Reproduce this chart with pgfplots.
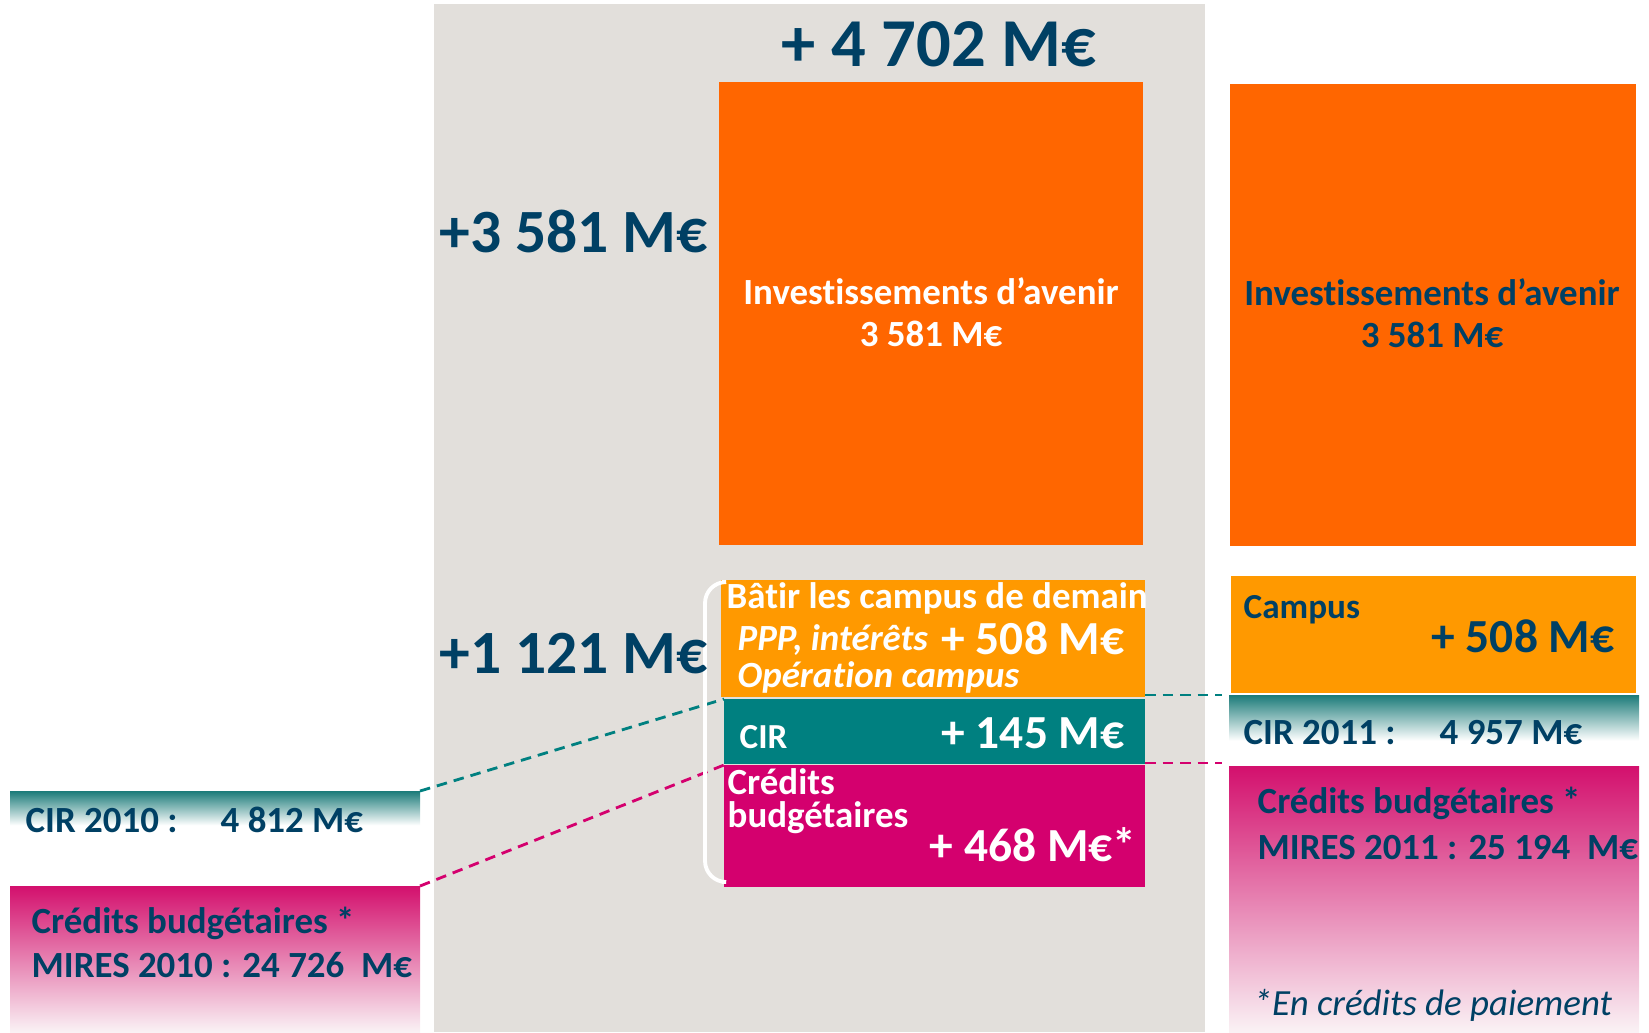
\documentclass[border=0pt]{standalone}
\usepackage{pgfplots}
\pgfplotsset{compat=1.18}
\usepackage{fontspec}
\setmainfont{Carlito}[Ligatures=NoCommon]
\definecolor{panel}{HTML}{E2DFDB}
\definecolor{orbig}{HTML}{FF6600}
\definecolor{orsmall}{HTML}{FF9900}
\definecolor{tealbox}{HTML}{008080}
\definecolor{magbox}{HTML}{D4006E}
\definecolor{navy}{HTML}{004064}
\definecolor{tealtop}{HTML}{1B7B79}
\definecolor{magtop}{HTML}{D3106D}
\definecolor{magbot}{HTML}{FAF2F5}
\pgfdeclareverticalshading{tealfade}{100bp}{color(0bp)=(white); color(25bp)=(white); color(42bp)=(white); color(75bp)=(tealtop); color(100bp)=(tealtop)}
\pgfdeclareverticalshading{magfade}{100bp}{color(0bp)=(magbot); color(25bp)=(magbot); color(75bp)=(magtop); color(100bp)=(magtop)}
\newcommand{\fs}[1]{\fontsize{#1}{#1}\selectfont}
\begin{document}
\begin{tikzpicture}
\begin{axis}[
  scale only axis, width=16.49cm, height=10.32cm,
  xmin=0, xmax=1649, ymin=0, ymax=1032, y dir=reverse,
  hide axis, clip=false]
\path (axis cs:0,0) rectangle (axis cs:1649,1032);
% grey panel
\addplot[draw=none, fill=panel] coordinates {(434,4) (1205,4) (1205,1032) (434,1032)} -- cycle;
% middle column
\addplot[draw=none, fill=orbig] coordinates {(719,82) (1143,82) (1143,545) (719,545)} -- cycle;
\addplot[draw=none, fill=orsmall] coordinates {(721,580) (1145,580) (1145,697) (721,697)} -- cycle;
\addplot[draw=none, fill=tealbox] coordinates {(724,699) (1145,699) (1145,764) (724,764)} -- cycle;
\addplot[draw=none, fill=magbox] coordinates {(724,765) (1145,765) (1145,887) (724,887)} -- cycle;
% right column
\addplot[draw=none, fill=orbig] coordinates {(1230,84) (1636,84) (1636,546) (1230,546)} -- cycle;
\addplot[draw=none, fill=orsmall] coordinates {(1231,576) (1636,576) (1636,693) (1231,693)} -- cycle;
\addplot[draw=none, shading=tealfade] coordinates {(1229,695) (1639,695) (1639,764) (1229,764)} -- cycle;
\addplot[draw=none, shading=magfade] coordinates {(1229,766) (1639,766) (1639,1032) (1229,1032)} -- cycle;
% left column
\addplot[draw=none, shading=tealfade] coordinates {(10,791) (420,791) (420,843) (10,843)} -- cycle;
\addplot[draw=none, shading=magfade] coordinates {(10,886) (420,886) (420,1032) (10,1032)} -- cycle;
% connectors
\addplot[tealbox, densely dashed, line width=0.8pt] coordinates {(420,791) (724,699)};
\addplot[magbox, densely dashed, line width=0.8pt] coordinates {(420,886) (724,765)};
\addplot[tealbox, densely dashed, line width=0.8pt] coordinates {(1145,695) (1222,695)};
\addplot[magbox, densely dashed, line width=0.8pt] coordinates {(1145,763) (1222,763)};
% bracket
\addplot[white, line width=1.1pt, rounded corners=6pt] coordinates {(722,582) (705,582) (705,882) (722,882)};
% texts
\node[text=navy, font=\bfseries\fs{19.5}] at (939,44) {+ 4 702 M€};
\node[text=navy, font=\bfseries\fs{17.5}, anchor=west, inner sep=0pt] at (439,231) {+3 581 M€};
\node[text=navy, font=\bfseries\fs{17.5}, anchor=west, inner sep=0pt] at (439,654) {+1 121 M€};
\node[text=white, font=\bfseries\fs{10.5}, align=center] at (931,312) {Investissements d’avenir\\[1.3pt]3 581 M€};
\node[text=navy, font=\bfseries\fs{10.5}, align=center] at (1432,313) {Investissements d’avenir\\[1.3pt]3 581 M€};
% middle small boxes
\node[text=white, font=\bfseries\fs{10.5}, anchor=west, inner sep=0pt] at (726,598) {Bâtir les campus de demain};
\node[text=white, font=\bfseries\itshape\fs{10.5}, anchor=west, inner sep=0pt] at (737,640) {PPP, intérêts};
\node[text=white, font=\bfseries\itshape\fs{10.5}, anchor=west, inner sep=0pt] at (737,677) {Opération campus};
\node[text=white, font=\bfseries\fs{13.5}, anchor=east, inner sep=0pt] at (1125,638) {+ 508 M€};
\node[text=white, font=\bfseries\fs{10}, anchor=west, inner sep=0pt] at (739,737) {CIR};
\node[text=white, font=\bfseries\fs{13.5}, anchor=east, inner sep=0pt] at (1125,733) {+ 145 M€};
\node[text=white, font=\bfseries\fs{10.5}, anchor=west, inner sep=0pt] at (727,782) {Crédits};
\node[text=white, font=\bfseries\fs{10.5}, anchor=west, inner sep=0pt] at (727,818) {budgétaires};
\node[text=white, font=\bfseries\fs{13.5}, anchor=east, inner sep=0pt] at (1137,845) {+ 468 M€*};
% right small boxes
\node[text=navy, font=\bfseries\fs{10}, anchor=west, inner sep=0pt] at (1243,610) {Campus};
\node[text=navy, font=\bfseries\fs{13.5}, anchor=east, inner sep=0pt] at (1615,636) {+ 508 M€};
\node[text=navy, font=\bfseries\fs{10.5}, anchor=west, inner sep=0pt] at (1243,732) {CIR 2011 :};
\node[text=navy, font=\bfseries\fs{10.5}, anchor=west, inner sep=0pt] at (1439,732) {4 957 M€};
\node[text=navy, font=\bfseries\fs{10.5}, anchor=west, inner sep=0pt] at (1257,803) {Crédits budgétaires *};
\node[text=navy, font=\bfseries\fs{10.5}, anchor=west, inner sep=0pt] at (1257,847) {MIRES 2011 : 25 194\ \ M€};
\node[text=navy, font=\itshape\fs{10.5}, anchor=west, inner sep=0pt] at (1253,1005) {*En crédits de paiement};
% left boxes
\node[text=navy, font=\bfseries\fs{10.5}, anchor=west, inner sep=0pt] at (25,820) {CIR 2010 :};
\node[text=navy, font=\bfseries\fs{10.5}, anchor=west, inner sep=0pt] at (220,820) {4 812 M€};
\node[text=navy, font=\bfseries\fs{10.5}, anchor=west, inner sep=0pt] at (31,923) {Crédits budgétaires *};
\node[text=navy, font=\bfseries\fs{10.5}, anchor=west, inner sep=0pt] at (31,965) {MIRES 2010 : 24 726\ \ M€};
\end{axis}
\end{tikzpicture}
\end{document}
